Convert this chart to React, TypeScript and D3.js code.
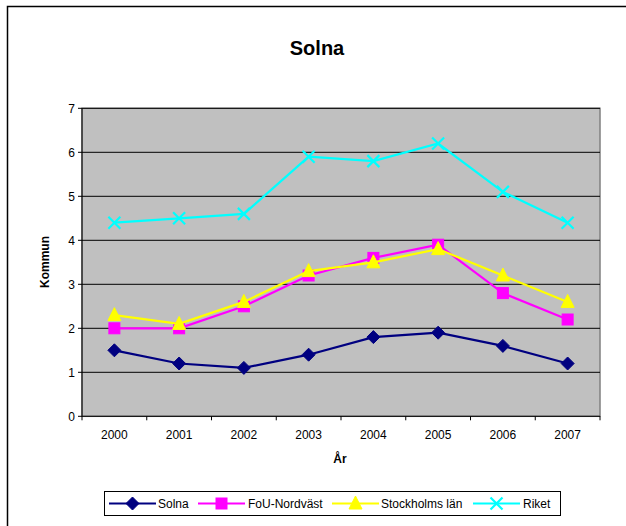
import React from "react";
import * as d3 from "d3";

const years = ["2000", "2001", "2002", "2003", "2004", "2005", "2006", "2007"];
const solna = [1.5, 1.2, 1.1, 1.4, 1.8, 1.9, 1.6, 1.2];
const fou = [2.0, 2.0, 2.5, 3.2, 3.6, 3.9, 2.8, 2.2];
const sthlm = [2.3, 2.1, 2.6, 3.3, 3.5, 3.8, 3.2, 2.6];
const riket = [4.4, 4.5, 4.6, 5.9, 5.8, 6.2, 5.1, 4.4];
const yTicks = [0, 1, 2, 3, 4, 5, 6, 7];

const seriesNames = ["Solna", "FoU-Nordväst", "Stockholms län", "Riket"];
const seriesColors = ["#000080", "#FF00FF", "#FFFF00", "#00FFFF"];
const seriesMarkers = ["diamond", "square", "triangle", "x"];
const seriesValues = [solna, fou, sthlm, riket];

const FONT = "Arial, 'Liberation Sans', Helvetica, sans-serif";

function Marker({ type, x, y, color }: { type: string; x: number; y: number; color: string }) {
  if (type === "diamond") {
    const s = 6.5;
    return <path d={`M${x},${y - s}L${x + s},${y}L${x},${y + s}L${x - s},${y}Z`} fill={color} stroke={color} strokeWidth={1} />;
  }
  if (type === "square") {
    const s = 5.5;
    return <rect x={x - s} y={y - s} width={2 * s} height={2 * s} fill={color} stroke={color} strokeWidth={1} />;
  }
  if (type === "triangle") {
    const s = 6.5;
    return <path d={`M${x},${y - s - 1}L${x + s},${y + s - 1}L${x - s},${y + s - 1}Z`} fill={color} stroke={color} strokeWidth={1} />;
  }
  const s = 6;
  return (
    <path d={`M${x - s},${y - s}L${x + s},${y + s}M${x + s},${y - s}L${x - s},${y + s}`} stroke={color} strokeWidth={2.2} fill="none" />
  );
}

export default function App() {
  const W = 626, H = 526;
  const left = 82, right = 600, top = 108.3, bottom = 416.3;
  const x = d3.scaleBand<string>().domain(years).range([left, right]);
  const y = d3.scaleLinear().domain([0, 7]).range([bottom, top]);
  const cx = (yr: string) => (x(yr) as number) + x.bandwidth() / 2;
  const line = d3
    .line<number>()
    .x((_, i) => cx(years[i]))
    .y((d) => y(d));

  const legendItems = [
    { lx: 109, tx: 158 },
    { lx: 198, tx: 248 },
    { lx: 332, tx: 381 },
    { lx: 473, tx: 523 },
  ];
  const ly = 503.5;

  return (
    <svg width={W} height={H} style={{ position: "absolute", left: 0, top: 0, background: "#fff" }} fontFamily={FONT}>
      <rect x={7.5} y={6.5} width={W} height={H} fill="#fff" stroke="#000" strokeWidth={1.5} />
      <text x={317} y={55} textAnchor="middle" fontSize={20} fontWeight="bold">Solna</text>

      <rect x={left} y={top} width={right - left} height={bottom - top} fill="#C0C0C0" stroke="#808080" strokeWidth={1.5} />
      {yTicks.filter((t) => t > 0).map((t) => (
        <line key={t} x1={left} x2={right} y1={y(t)} y2={y(t)} stroke="#000" strokeWidth={1} />
      ))}
      <line x1={left} x2={left} y1={top} y2={bottom} stroke="#000" strokeWidth={1} />
      <line x1={left} x2={right} y1={bottom} y2={bottom} stroke="#000" strokeWidth={1} />
      {yTicks.map((t) => (
        <g key={t}>
          <line x1={left - 4} x2={left} y1={y(t)} y2={y(t)} stroke="#000" />
          <text x={75} y={y(t) + 4.5} textAnchor="end" fontSize={12}>{t}</text>
        </g>
      ))}
      {[...years.map((yr) => x(yr) as number), right].map((v, i) => (
        <line key={i} x1={v} x2={v} y1={bottom} y2={bottom + 4} stroke="#000" />
      ))}
      {years.map((yr) => (
        <text key={yr} x={cx(yr)} y={438.5} textAnchor="middle" fontSize={12}>{yr}</text>
      ))}
      <text x={340} y={463} textAnchor="middle" fontSize={12} fontWeight="bold">År</text>
      <text transform={`translate(49,262) rotate(-90)`} textAnchor="middle" fontSize={12} fontWeight="bold">Kommun</text>

      {seriesValues.map((vals, si) => (
        <g key={si}>
          <path d={line(vals) as string} fill="none" stroke={seriesColors[si]} strokeWidth={2.2} />
          {vals.map((v, i) => (
            <Marker key={i} type={seriesMarkers[si]} x={cx(years[i])} y={y(v)} color={seriesColors[si]} />
          ))}
        </g>
      ))}

      <rect x={104.5} y={491.5} width={456} height={24} fill="#fff" stroke="#000" strokeWidth={1} />
      {legendItems.map((it, si) => (
        <g key={si}>
          <line x1={it.lx} x2={it.lx + 47} y1={ly} y2={ly} stroke={seriesColors[si]} strokeWidth={2.2} />
          <Marker type={seriesMarkers[si]} x={it.lx + 23.5} y={ly} color={seriesColors[si]} />
          <text x={it.tx} y={ly + 4.5} fontSize={12}>{seriesNames[si]}</text>
        </g>
      ))}
    </svg>
  );
}
